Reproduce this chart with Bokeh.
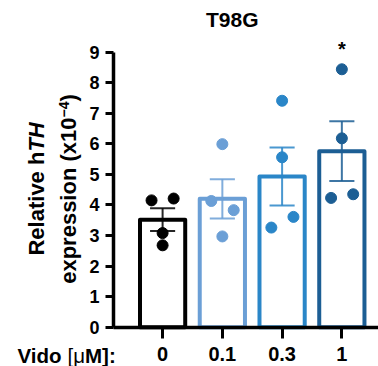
import math
from bokeh.plotting import figure
from bokeh.models import Label, FixedTicker, Range1d
from bokeh.embed import file_html
from bokeh.resources import INLINE

# ---- data ----
conc_labels = ["0", "0.1", "0.3", "1"]
bar_colors = ["#000000", "#6b9fd6", "#2a86c8", "#1c5e94"]
means = [3.52, 4.20, 4.93, 5.76]
sems = [0.37, 0.64, 0.95, 0.98]
points_0 = [4.15, 4.21, 3.08, 2.68]
points_01 = [5.99, 4.13, 3.83, 2.97]
points_03 = [7.41, 5.56, 3.61, 3.26]
points_1 = [8.44, 6.18, 4.23, 4.35]
y_ticks = [0, 1, 2, 3, 4, 5, 6, 7, 8, 9]

# layout only: horizontal spread of the dots within each group
jitter = [[-0.185, 0.185, 0.0, 0.0],
          [0.0, -0.185, 0.19, 0.0],
          [0.0, 0.0, 0.19, -0.18],
          [0.0, 0.0, -0.18, 0.19]]

FONT = "Liberation Sans"
all_points = [points_0, points_01, points_03, points_1]
xs = list(range(len(conc_labels)))

W, H = 378, 366
X0, XS = 162.1, 59.75   # canvas x of category 0, px per category
Y0, YS = 326.7, 30.56   # canvas y of value 0, px per unit
BL = 7.5                # baseline correction for labels

p = figure(width=W, height=H, output_backend="svg", toolbar_location=None,
           title=None,
           x_range=Range1d((0 - X0) / XS, (W - X0) / XS),
           y_range=Range1d((Y0 - H) / YS, Y0 / YS),
           min_border=0, min_border_left=0, min_border_right=0,
           min_border_top=0, min_border_bottom=0)
p.outline_line_color = None
p.xgrid.visible = False
p.ygrid.visible = False
p.background_fill_color = "white"
p.border_fill_color = "white"

x_left = (113.0 - X0) / XS
x_right = (W - X0) / XS

# bars
p.vbar(x=xs, top=means, bottom=0, width=0.757, fill_color="white",
       line_color=bar_colors, line_width=4, line_join="round")

# error bars
cap = 0.21
x0s, y0s, x1s, y1s, cols = [], [], [], [], []
for i in xs:
    lo, hi = means[i] - sems[i], means[i] + sems[i]
    x0s += [i, i - cap, i - cap]
    x1s += [i, i + cap, i + cap]
    y0s += [lo, hi, lo]
    y1s += [hi, hi, lo]
    cols += [bar_colors[i]] * 3
p.segment(x0=x0s, y0=y0s, x1=x1s, y1=y1s, line_color=cols, line_width=2,
          line_alpha=0.85)

# individual points
px, py, pc = [], [], []
for i in xs:
    for j, v in enumerate(all_points[i]):
        px.append(i + jitter[i][j])
        py.append(v)
        pc.append(bar_colors[i])
p.scatter(x=px, y=py, size=11, marker="circle", fill_color=pc, line_color=pc)

# axes (placed at fixed data positions inside the canvas-wide frame)
p.yaxis.fixed_location = x_left
p.yaxis.bounds = (0, 9)
p.yaxis.ticker = FixedTicker(ticks=y_ticks)
p.yaxis.axis_line_width = 3.5
p.yaxis.major_tick_line_width = 3
p.yaxis.major_tick_out = 8
p.yaxis.major_tick_in = 0
p.yaxis.minor_tick_line_color = None
p.yaxis.major_label_standoff = 6
p.yaxis.major_label_text_font = FONT
p.yaxis.major_label_text_font_style = "bold"
p.yaxis.major_label_text_font_size = "18px"
p.yaxis.major_label_text_color = "black"

p.xaxis.fixed_location = 0
p.xaxis.bounds = (x_left, x_right)
p.xaxis.ticker = FixedTicker(ticks=xs)
p.xaxis.major_label_overrides = {i: conc_labels[i] for i in xs}
p.xaxis.axis_line_width = 3.5
p.xaxis.major_tick_line_width = 3
p.xaxis.major_tick_out = 11
p.xaxis.major_tick_in = 0
p.xaxis.minor_tick_line_color = None
p.xaxis.major_label_standoff = 9
p.xaxis.major_label_text_font = FONT
p.xaxis.major_label_text_font_style = "bold"
p.xaxis.major_label_text_font_size = "20px"
p.xaxis.major_label_text_color = "black"


def lab(text, cx, cy, size, style="bold", align="left", angle=0.0):
    if angle:
        cx -= BL
    else:
        cy -= BL
    p.add_layout(Label(x=(cx - X0) / XS, y=(Y0 - cy) / YS,
                       text=text, text_font=FONT, text_font_style=style,
                       text_font_size=size, text_align=align,
                       text_baseline="alphabetic", angle=angle,
                       text_color="black"))


# title
lab("T98G", 231.7, 26, "21px", align="center")
# significance
lab("*", X0 + 3 * XS, 56, "20px", align="center")

# y axis title (two lines, rotated)
ang = math.pi / 2
lab("Relative h", 43.3, 151.1, "22px", align="right", angle=ang)
lab("TH", 43.3, 151.1, "22px", style="bold italic", align="left", angle=ang)
lab("expression (x10", 75, 117, "22px", align="right", angle=ang)
lab("\u22124", 71, 117, "14px", align="left", angle=ang)
lab(")", 75, 101, "22px", align="left", angle=ang)

# x axis caption
lab("Vido ", 17, 362, "20.5px")
lab("[\u03bc", 67, 362, "20.5px", style="normal")
lab("M]:", 84.5, 362, "20.5px")

open("out.html", "w").write(file_html(p, INLINE))
